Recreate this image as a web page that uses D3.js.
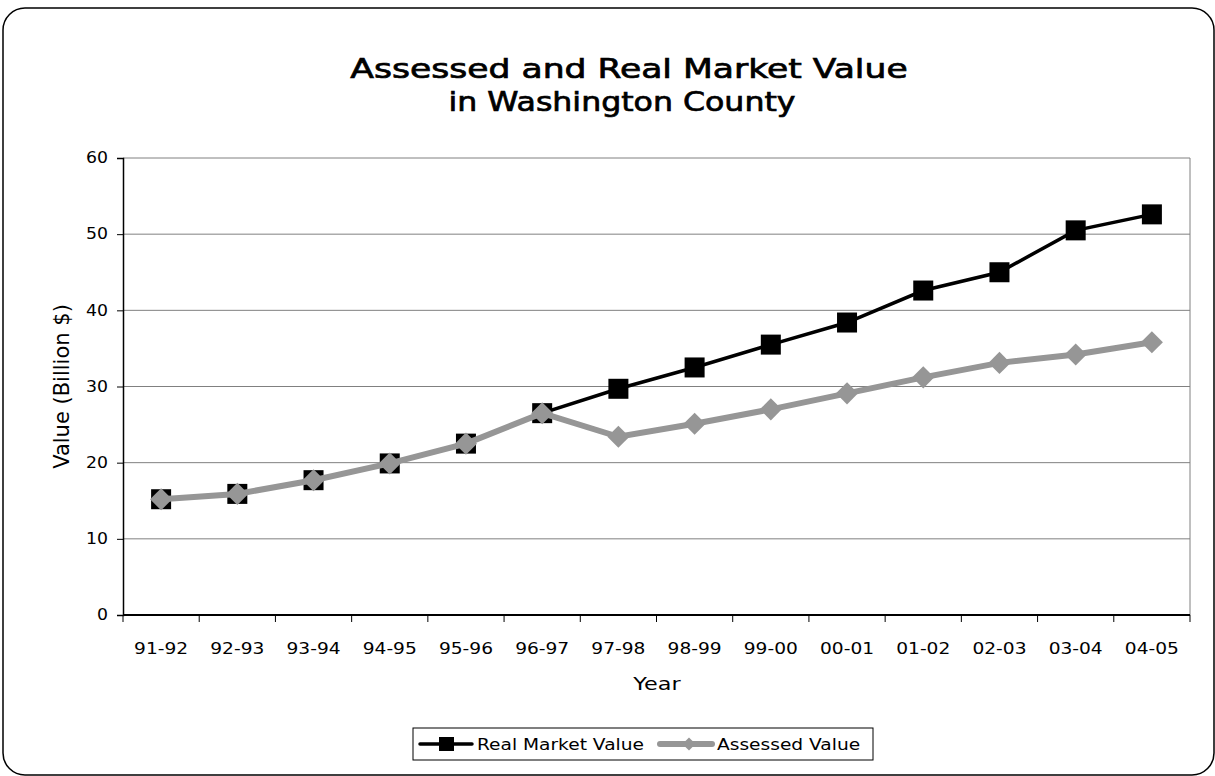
<!DOCTYPE html>
<html>
<head>
<meta charset="utf-8">
<script src="https://d3js.org/d3.v7.min.js"></script>
<style>
  body { margin: 0; background: #fff; }
  svg { display: block; }
</style>
</head>
<body>
<div id="chart"></div>
<script>
// ---- data ----
var years = ["91-92","92-93","93-94","94-95","95-96","96-97","97-98","98-99","99-00","00-01","01-02","02-03","03-04","04-05"];
var realMarket = [15.2, 15.9, 17.7, 19.9, 22.5, 26.5, 29.7, 32.5, 35.5, 38.4, 42.6, 45.0, 50.5, 52.6];
var assessed   = [15.2, 15.9, 17.7, 19.9, 22.5, 26.5, 23.4, 25.1, 27.0, 29.1, 31.2, 33.1, 34.2, 35.8];
var yTicks = [0, 10, 20, 30, 40, 50, 60];

var W = 1215, H = 776;
var margin = {top: 158, right: 25, bottom: 161, left: 123},
    width = W - margin.left - margin.right,
    height = H - margin.top - margin.bottom;

var font = "'DejaVu Sans', Verdana, sans-serif";

// widen horizontal text a little, keeping its anchor (original text is wider than DejaVu)
function widen(sel, k) {
  k = k || 1.24;
  sel.each(function(){
    var len = this.getComputedTextLength();
    d3.select(this).attr("textLength", len * k).attr("lengthAdjust", "spacingAndGlyphs");
  });
}

var root = d3.select("#chart").append("svg")
  .attr("width", W).attr("height", H);

// outer rounded frame
root.append("rect")
  .attr("x", 3).attr("y", 8)
  .attr("width", W - 4).attr("height", H - 9)
  .attr("rx", 22).attr("ry", 22)
  .attr("fill", "none").attr("stroke", "#000").attr("stroke-width", 1.5);

// title
root.append("text")
  .attr("x", 629).attr("y", 78)
  .attr("text-anchor", "middle")
  .style("font-family", font).style("font-size", "27px")
  .attr("stroke", "#000").attr("stroke-width", 0.7)
  .text("Assessed and Real Market Value")
  .call(widen, 1.28);
root.append("text")
  .attr("x", 622).attr("y", 111)
  .attr("text-anchor", "middle")
  .style("font-family", font).style("font-size", "27px")
  .attr("stroke", "#000").attr("stroke-width", 0.7)
  .text("in Washington County")
  .call(widen, 1.17);

var svg = root.append("g")
  .attr("transform", "translate(" + margin.left + "," + margin.top + ")");

// scales
var x = d3.scaleBand().domain(years).range([0, width]);
var y = d3.scaleLinear().domain([0, 60]).range([height, 0]);

// gridlines
svg.selectAll("grid")
  .data(yTicks.filter(function(d){ return d > 0 }))
  .enter()
  .append("line")
    .attr("x1", 0).attr("x2", width)
    .attr("y1", function(d){ return y(d) })
    .attr("y2", function(d){ return y(d) })
    .attr("stroke", "#808080").attr("stroke-width", 1);

// right border of plot
svg.append("line")
  .attr("x1", width).attr("x2", width)
  .attr("y1", 0).attr("y2", height)
  .attr("stroke", "#808080");

// Y axis
var yAxis = svg.append("g")
  .call(d3.axisLeft(y).tickValues(yTicks).tickSize(6).tickPadding(9));
yAxis.select(".domain").attr("stroke", "#000").attr("stroke-width", 1.5);
yAxis.selectAll("line").attr("stroke", "#000");
yAxis.selectAll("text").style("font-family", font).style("font-size", "15px").attr("fill", "#000").call(widen, 1.15);

// X axis (ticks between categories)
var xAxisG = svg.append("g").attr("transform", "translate(0," + height + ")");
xAxisG.append("line")
  .attr("x1", 0).attr("x2", width).attr("y1", 0).attr("y2", 0)
  .attr("stroke", "#000").attr("stroke-width", 2);
xAxisG.selectAll("xtick")
  .data(years.concat(["end"]))
  .enter()
  .append("line")
    .attr("x1", function(d, i){ return i * x.step() })
    .attr("x2", function(d, i){ return i * x.step() })
    .attr("y1", 0).attr("y2", 7)
    .attr("stroke", "#000");
xAxisG.selectAll("xlabel")
  .data(years)
  .enter()
  .append("text")
    .attr("x", function(d){ return x(d) + x.bandwidth() / 2 })
    .attr("y", 39)
    .attr("text-anchor", "middle")
    .style("font-family", font).style("font-size", "15px")
    .text(function(d){ return d })
    .call(widen);

// axis titles
svg.append("text")
  .attr("x", 657 - margin.left).attr("y", height + 75)
  .attr("text-anchor", "middle")
  .style("font-family", font).style("font-size", "18px")
  .text("Year")
  .call(widen);
svg.append("text")
  .attr("transform", "translate(-54," + (height / 2) + ") rotate(-90)")
  .attr("text-anchor", "middle")
  .style("font-family", font).style("font-size", "21px")
  .text("Value (Billion $)");

// lines
var cx = function(d, i){ return x(years[i]) + x.bandwidth() / 2 };
var line = d3.line().x(cx).y(function(d){ return y(d) });

svg.append("path")
  .datum(realMarket)
  .attr("d", line)
  .attr("fill", "none").attr("stroke", "#000").attr("stroke-width", 3.5);

svg.selectAll("sq")
  .data(realMarket)
  .enter()
  .append("rect")
    .attr("x", function(d, i){ return cx(d, i) - 10 })
    .attr("y", function(d){ return y(d) - 10 })
    .attr("width", 20).attr("height", 20)
    .attr("fill", "#000");

svg.append("path")
  .datum(assessed)
  .attr("d", line)
  .attr("fill", "none").attr("stroke", "#969696").attr("stroke-width", 6);

svg.selectAll("dia")
  .data(assessed)
  .enter()
  .append("path")
    .attr("d", d3.symbol().type(d3.symbolDiamond2).size(310))
    .attr("transform", function(d, i){ return "translate(" + cx(d, i) + "," + y(d) + ")" })
    .attr("fill", "#969696");

// legend
var leg = root.append("g").attr("transform", "translate(413,728)");
leg.append("rect")
  .attr("width", 460).attr("height", 32)
  .attr("fill", "#fff").attr("stroke", "#000").attr("stroke-width", 1);

var legItems = [
  {name: "Real Market Value", color: "#000", sw: 3.5, x0: 7, shape: "square"},
  {name: "Assessed Value", color: "#969696", sw: 6, x0: 247, shape: "diamond"}
];
legItems.forEach(function(it){
  leg.append("line")
    .attr("x1", it.x0).attr("x2", it.x0 + 52)
    .attr("y1", 16).attr("y2", 16)
    .attr("stroke", it.color).attr("stroke-width", it.sw).attr("stroke-linecap", "round");
  if (it.shape == "square") {
    leg.append("rect").attr("x", it.x0 + 19).attr("y", 9).attr("width", 15).attr("height", 14).attr("fill", it.color);
  } else {
    leg.append("path")
      .attr("d", d3.symbol().type(d3.symbolDiamond2).size(110))
      .attr("transform", "translate(" + (it.x0 + 29) + ",16)")
      .attr("fill", it.color);
  }
  leg.append("text")
    .attr("x", it.x0 + 57).attr("y", 22)
    .style("font-family", font).style("font-size", "15px")
    .text(it.name)
    .call(widen);
});
</script>
</body>
</html>
